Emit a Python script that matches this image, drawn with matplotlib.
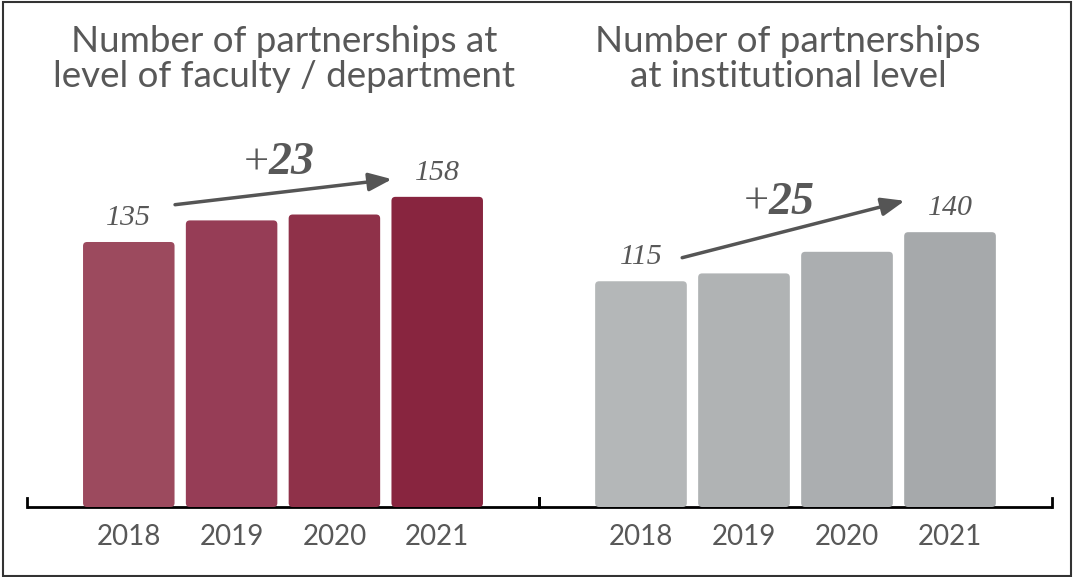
import matplotlib
matplotlib.use("Agg")
import matplotlib.pyplot as plt
from matplotlib.patches import FancyBboxPatch, Rectangle

years = ["2018", "2019", "2020", "2021"]
faculty_values = [135, 146, 149, 158]
institution_values = [115, 119, 130, 140]
faculty_title = "Number of partnerships at\nlevel of faculty / department"
institution_title = "Number of partnerships\nat institutional level"
faculty_change = "23"
institution_change = "25"

faculty_colors = ["#9c4a5e", "#963d56", "#8f3149", "#88253f"]
institution_colors = ["#b4b7b8", "#b0b3b4", "#abaeb0", "#a6a9ab"]
TXT = "#585858"

W, H = 1073, 577
fig = plt.figure(figsize=(W / 100, H / 100), dpi=100)
fig.patch.set_facecolor("white")

base_px = 507
ypx_per_unit = 1.963
ymax = base_px / ypx_per_unit


def make_ax(left_px, right_px):
    ax = fig.add_axes([left_px / W, (H - base_px) / H, (right_px - left_px) / W, base_px / H])
    ax.set_xlim(-0.99, 3.99)
    ax.set_ylim(0, ymax)
    ax.axis("off")
    ax.patch.set_alpha(0)
    return ax


def draw_panel(ax, values, colors):
    xpx_per_unit = (ax.get_position().width * W) / (ax.get_xlim()[1] - ax.get_xlim()[0])
    aspect = (1 / ypx_per_unit) / (1 / xpx_per_unit)
    # baseline and end ticks
    ax.plot([-0.99, 3.99], [0, 0], color="black", lw=2, solid_capstyle="butt", zorder=1, clip_on=False)
    for xt in (-0.99, 3.99):
        ax.plot([xt, xt], [0, 9 / ypx_per_unit], color="black", lw=2, zorder=1, clip_on=False)
    bars = ax.bar(range(len(values)), values, width=0.89, color=colors)
    r = 4 / xpx_per_unit
    for b, c in zip(bars, colors):
        b.set_visible(False)
        p = FancyBboxPatch((b.get_x(), b.get_y()), b.get_width(), b.get_height(),
                           boxstyle=f"round,pad=0,rounding_size={r}",
                           mutation_aspect=aspect, fc=c, ec="none", zorder=2)
        ax.add_patch(p)
    for i, y in enumerate(years):
        ax.text(i, -30 / ypx_per_unit, y, ha="center", va="center", fontsize=20,
                family="Lato", color=TXT, clip_on=False)


ax1 = make_ax(27, 539)
ax2 = make_ax(539, 1052)
draw_panel(ax1, faculty_values, faculty_colors)
draw_panel(ax2, institution_values, institution_colors)

vfont = dict(family="Liberation Serif", style="italic", fontsize=21.5, color=TXT, ha="center", va="bottom")
for ax, vals in ((ax1, faculty_values), (ax2, institution_values)):
    ax.text(0, vals[0] + 11 / ypx_per_unit, str(vals[0]), **vfont)
    ax.text(3, vals[-1] + 11 / ypx_per_unit, str(vals[-1]), **vfont)


def arrow(ax, vals, change, dx_start, dx_end, dy_start, dy_end, label_x, label_y):
    x0 = 0 + dx_start
    y0 = vals[0] + dy_start
    x1 = 3 + dx_end
    y1 = vals[-1] + dy_end
    ax.annotate("", xy=(x1, y1), xytext=(x0, y0),
                arrowprops=dict(arrowstyle="-|>,head_length=1.4,head_width=0.55",
                                color="#555555", lw=2.5, shrinkA=0, shrinkB=0))
    ax.text(label_x, label_y, "+", family="Liberation Serif", fontsize=32, color=TXT,
            ha="right", va="center")
    ax.text(label_x, label_y, change, family="Liberation Serif", fontsize=33, style="italic",
            weight="bold", color=TXT, ha="left", va="center")


# left arrow
arrow(ax1, faculty_values, faculty_change, 0.45, -0.44, 19, 9, 1.36, 175)
# right arrow
arrow(ax2, institution_values, institution_change, 0.40, -0.44, 12, 16, 1.24, 155)

tfont = dict(family="Lato", fontsize=26.5, color=TXT, ha="center", va="top", linespacing=1.07)
fig.text(284 / W, 1 - 25 / H, faculty_title, **tfont)
fig.text(788 / W, 1 - 25 / H, institution_title, **tfont)

fig.add_artist(Rectangle((3 / W, 1 / H), 1068 / W, 574 / H, transform=fig.transFigure,
                         fill=False, ec="#333333", lw=1.5))

fig.savefig("out.png", dpi=100)
